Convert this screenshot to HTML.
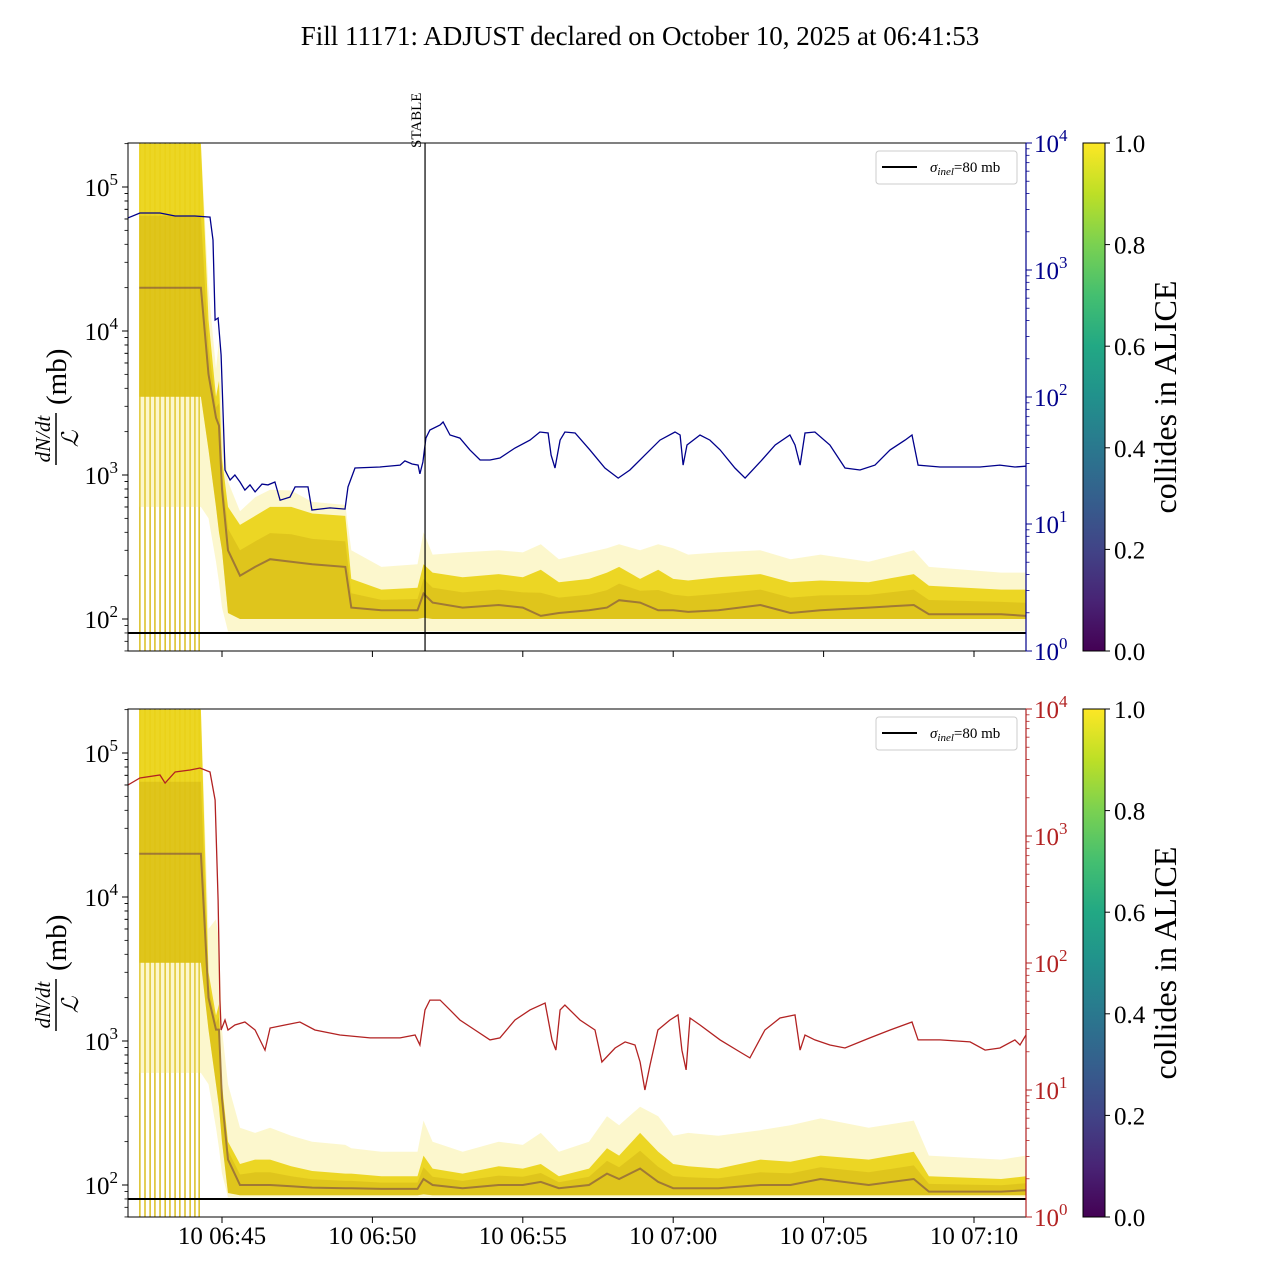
<!DOCTYPE html>
<html><head><meta charset="utf-8">
<style>
html,body{margin:0;padding:0;background:#fff;}
svg{display:block;font-family:"Liberation Serif",serif;}
</style></head>
<body>
<svg id="chart" width="1280" height="1280" viewBox="0 0 1280 1280" xmlns="http://www.w3.org/2000/svg">
<defs>
<linearGradient id="viridis" x1="0" y1="1" x2="0" y2="0">
<stop offset="0" stop-color="#440154"/><stop offset="0.1" stop-color="#482475"/><stop offset="0.2" stop-color="#414487"/><stop offset="0.3" stop-color="#355f8d"/><stop offset="0.4" stop-color="#2a788e"/><stop offset="0.5" stop-color="#21918c"/><stop offset="0.6" stop-color="#22a884"/><stop offset="0.7" stop-color="#44bf70"/><stop offset="0.8" stop-color="#7ad151"/><stop offset="0.9" stop-color="#bddf26"/><stop offset="1" stop-color="#fde725"/>
</linearGradient>
<clipPath id="clipTop"><rect x="128" y="143" width="898" height="508"/></clipPath>
<clipPath id="clipBot"><rect x="128" y="709" width="898" height="508"/></clipPath>
</defs>
<text x="640" y="45" text-anchor="middle" font-size="27">Fill 11171: ADJUST declared on October 10, 2025 at 06:41:53</text>
</svg>
<script>
// ---- data (time in minutes after 06:40) ----
const bandT = [2.25,4.3,4.55,4.8,4.9,5.0,5.2,5.6,6.1,6.6,7.3,8.0,9.1,9.3,10.3,11.5,11.7,12.0,13.0,14.2,15.0,15.6,16.2,17.2,17.8,18.2,18.9,19.5,20.0,20.5,21.5,22.9,23.9,24.9,26.5,28.0,28.5,30.9,31.73];
const topEnvHi = [200000,200000,20000,5450,8660,2410,900,560,700,790,780,650,620,300,230,240,400,280,290,300,290,330,260,290,310,330,300,330,310,280,290,300,260,280,250,300,230,210,210];
const topEnvLo = [600,600,500,250,180,120,82,82,82,82,82,82,82,82,82,82,82,82,82,82,82,82,82,82,82,82,82,82,82,82,82,82,82,82,82,82,82,82,82];
const topCoreHi = [200000,200000,12000,3500,4500,1300,600,450,520,600,600,540,520,190,160,165,240,210,195,205,195,220,180,190,210,230,190,220,190,185,195,205,180,185,180,205,170,160,160];
const topCoreLo = [3500,3500,1500,600,400,300,110,100,100,100,100,100,100,100,100,100,102,100,100,100,100,100,100,100,100,100,100,100,100,100,100,100,100,100,100,100,100,100,100];
const topMed = [20000,20000,5000,2500,2200,800,300,200,230,260,250,240,230,120,115,115,150,130,120,125,120,105,110,115,120,135,130,115,115,112,115,125,110,115,120,125,108,108,105];
const botEnvHi = [200000,200000,6000,7000,5000,1200,500,250,230,250,220,200,190,180,170,170,280,200,170,200,190,230,170,200,300,260,350,300,220,230,220,240,260,290,250,280,160,150,160];
const botEnvLo = [600,600,500,250,180,120,82,82,82,82,82,82,82,82,82,82,82,82,82,82,82,82,82,82,82,82,82,82,82,82,82,82,82,82,82,82,82,82,82];
const botCoreHi = [200000,200000,3000,1500,1800,500,200,140,150,150,135,125,120,120,115,115,160,130,120,135,130,140,115,130,180,160,230,170,140,135,130,150,145,160,150,170,115,110,115];
const botCoreLo = [3500,3500,1200,500,350,200,88,85,85,85,85,85,85,85,85,85,86,85,85,85,85,85,85,85,85,85,85,85,85,85,85,85,85,85,85,85,85,85,85];
const botMed = [20000,20000,2000,1200,1200,400,150,100,100,100,98,96,95,95,94,94,110,100,95,100,100,105,95,100,120,110,130,105,95,95,95,100,100,110,100,110,90,90,92];
const gapTimes = [2.27,2.44,2.61,2.77,2.94,3.11,3.27,3.44,3.60,3.77,3.94,4.10,4.24];
const blueT = [1.875,2.27,2.94,3.44,4.10,4.60,4.70,4.77,4.87,4.97,5.10,5.27,5.43,5.60,5.76,5.93,6.10,6.33,6.53,6.76,6.93,7.26,7.43,7.86,7.99,8.59,9.09,9.19,9.42,10.25,10.92,11.08,11.32,11.52,11.58,11.68,11.78,11.91,12.25,12.35,12.58,12.91,13.24,13.58,13.91,14.24,14.74,15.24,15.57,15.84,15.94,16.07,16.24,16.40,16.74,17.23,17.73,18.17,18.56,19.06,19.56,20.06,20.23,20.33,20.46,20.89,21.22,21.56,22.05,22.39,22.89,23.39,23.88,24.05,24.22,24.38,24.71,25.21,25.71,26.21,26.71,27.21,27.71,27.94,28.14,28.87,30.20,30.86,31.36,31.73];
const blueV = [2570,2810,2810,2660,2660,2610,1720,404,419,214,26.6,22.2,24.3,21.4,18.5,20.3,17.9,20.6,20.3,21.4,15.4,16.3,19.6,19.6,12.9,13.4,13.1,19.6,27.6,28.1,29.1,31.4,29.7,29.1,24.8,30.8,47.5,55,60.2,63.6,50.2,47.5,38.3,31.9,31.9,33.1,39.7,45.8,53,52.1,34.9,27.6,45.8,53,52.1,38.3,27.6,23,26.6,34.9,45.8,53,50.2,29.1,41.9,50.2,45.8,38.3,27.6,23,30.8,41.9,50.2,41.9,29.1,52.1,53,41.9,27.6,26.6,29.1,38.3,45.8,50.2,29.1,28.1,28.1,29.1,28.1,28.5];
const redT = [1.875,2.27,2.94,3.11,3.44,3.94,4.27,4.60,4.77,4.87,4.93,4.97,5.10,5.20,5.43,5.76,6.10,6.43,6.60,7.09,7.59,8.09,8.92,9.92,10.92,11.42,11.58,11.75,11.91,12.25,12.58,12.91,13.41,13.91,14.24,14.74,15.24,15.74,15.97,16.10,16.24,16.40,16.90,17.40,17.63,18.07,18.40,18.73,18.90,19.06,19.23,19.49,19.89,20.16,20.29,20.43,20.56,20.89,21.56,22.22,22.55,23.05,23.55,24.05,24.22,24.38,24.71,25.21,25.71,26.54,27.21,27.94,28.14,28.87,29.87,30.37,30.86,31.36,31.53,31.73];
const redV = [2520,2860,3020,2610,3190,3310,3430,3190,1920,313,51,29.7,35.6,29.7,32.5,34.3,29.7,20.6,30.8,32.5,34.3,29.7,27.1,25.7,25.7,27.1,22.6,42.7,51,51,42.7,35.6,29.7,24.8,25.7,35.6,42.7,48.4,24.8,20.6,42.7,46.7,35.6,29.7,16.6,21.4,23.9,22.6,16.6,10,15.7,29.7,35.6,39,20.6,14.4,36.9,32.5,24.8,19.9,17.9,29.7,36.9,39,20.6,27.1,24.8,22.6,21.4,25.7,29.7,34.3,24.8,24.8,23.9,20.6,21.4,24.8,22.6,27.1];
const xTickLabels = ["10 06:45","10 06:50","10 06:55","10 07:00","10 07:05","10 07:10"];
const xTickTimes = [5,10,15,20,25,30];
const leftDecades = [2,3,4,5];
const rightDecades = [0,1,2,3,4];
const cbTicks = ["0.0","0.2","0.4","0.6","0.8","1.0"];
const stableTime = 11.75;
const sigmaInel = 80;

const NS = "http://www.w3.org/2000/svg";
const svg = document.getElementById('chart');
function mk(tag, attrs, parent){const e=document.createElementNS(NS,tag);for(const k in attrs)e.setAttribute(k,attrs[k]);(parent||svg).appendChild(e);return e;}
const X = t => 222 + (t-5)*30.08;
const X0 = 128, X1 = 1026;

function panel(p){
  const top=p.top, bot=top+508, base=top+476;
  const YL = v => base - (Math.log10(v)-2)*144;
  const YR = v => bot - Math.log10(v)*127;
  const g = mk('g',{});
  
  
  const cg = mk('g',{'clip-path':'url(#'+p.clip+')'},g);
  gapTimes.forEach(t=>{
    const l=mk('line',{x1:X(t),x2:X(t),y1:top,y2:bot,stroke:'#d4b400','stroke-width':1.3},cg);
    
    
  });
  function band(hi,lo,fill,op,name){
    let d='M';
    bandT.forEach((t,i)=>{d+=X(t).toFixed(1)+','+YL(hi[i]).toFixed(1)+' L';});
    for(let i=bandT.length-1;i>=0;i--){d+=X(bandT[i]).toFixed(1)+','+YL(lo[i]).toFixed(1)+(i?' L':'');}
    const e=mk('path',{d:d+'Z',fill:fill,'fill-opacity':op},cg);
    
    
  }
  band(p.envHi,p.envLo,'#f5e65a',0.3,'rate-envelope');
  band(p.coreHi,p.coreLo,'#ead316',0.92,'rate-core-band');
  const midHi = p.med.map((m,i)=>Math.sqrt(m*p.coreHi[i]));
  band(midHi,p.coreLo,'#c9a70e',0.35,'rate-dense-band');
  const pd = bandT.map((t,i)=>(i?'L':'M')+X(t).toFixed(1)+','+YL(p.med[i]).toFixed(1)).join(' ');
  const ml=mk('path',{d:pd,fill:'none',stroke:'#6b3a4a','stroke-width':2,'stroke-opacity':0.55},cg);
  
  
  const sl=mk('line',{x1:X0,x2:X1,y1:YL(sigmaInel),y2:YL(sigmaInel),stroke:'#000','stroke-width':2},cg);
  
  
  const rd = p.rT.map((t,i)=>(i?'L':'M')+X(t).toFixed(1)+','+YR(p.rV[i]).toFixed(1)).join(' ');
  const rl=mk('path',{d:rd,fill:'none',stroke:p.rColor,'stroke-width':1.3},cg);
  
  
  if(p.stable){
    const st=mk('line',{x1:X(stableTime),x2:X(stableTime),y1:top,y2:bot,stroke:'#000','stroke-width':1.2},g);
    
    
    const tx=X(stableTime)-4;
    const stt=mk('text',{x:tx,y:top+5,'font-size':15,transform:'rotate(-90 '+tx+' '+(top+5)+')'},g);
    stt.textContent='STABLE';
    
    
  }
  mk('rect',{x:X0,y:top,width:X1-X0,height:508,fill:'none',stroke:'#000','stroke-width':1},g);
  mk('line',{x1:X1,x2:X1,y1:top,y2:bot,stroke:p.rColor,'stroke-width':1.2},g);
  leftDecades.forEach(dc=>{
    const y=YL(Math.pow(10,dc));
    mk('line',{x1:X0-6,x2:X0,y1:y,y2:y,stroke:'#000'},g);
    const t=mk('text',{x:X0-10,y:y+9,'font-size':25,'text-anchor':'end'},g);
    
    
    t.innerHTML='10<tspan dy="-11" font-size="17">'+dc+'</tspan>';
    for(let m=2;m<10;m++){
      const ym=YL(m*Math.pow(10,dc));
      if(ym>=top&&ym<=bot) mk('line',{x1:X0-3.5,x2:X0,y1:ym,y2:ym,stroke:'#000','stroke-width':0.8},g);
    }
    for(let m=6;m<10;m++){const yy=YL(m*Math.pow(10,dc-1)); if(yy<=bot&&yy>=top) mk('line',{x1:X0-3.5,x2:X0,y1:yy,y2:yy,stroke:'#000','stroke-width':0.8},g);}
  });
  rightDecades.forEach(dc=>{
    const y=YR(Math.pow(10,dc));
    mk('line',{x1:X1,x2:X1+6,y1:y,y2:y,stroke:p.rColor},g);
    const t=mk('text',{x:X1+8,y:y+9,'font-size':25,fill:p.rColor},g);
    
    
    t.innerHTML='10<tspan dy="-11" font-size="17">'+dc+'</tspan>';
    if(dc<4) for(let m=2;m<10;m++){const ym=YR(m*Math.pow(10,dc));mk('line',{x1:X1,x2:X1+3.5,y1:ym,y2:ym,stroke:p.rColor,'stroke-width':0.8},g);}
  });
  xTickTimes.forEach((t,i)=>{
    mk('line',{x1:X(t),x2:X(t),y1:bot,y2:bot+6,stroke:'#000'},g);
    if(p.xLabels){
      const tl=mk('text',{x:X(t),y:bot+27,'font-size':25,'text-anchor':'middle'},g);
      tl.textContent=xTickLabels[i];
      
      
    }
  });
  const yl=mk('g',{transform:'translate(56 '+(top+254)+') rotate(-90)'},g);
  
  
  const n=mk('text',{x:-42,y:-6,'font-size':21,'font-style':'italic','text-anchor':'middle'},yl); n.textContent='dN/dt';
  mk('line',{x1:-68,x2:-16,y1:0,y2:0,stroke:'#000','stroke-width':1.5},yl);
  const dd=mk('text',{x:-42,y:22,'font-size':23,'font-style':'italic','text-anchor':'middle'},yl); dd.textContent='ℒ';
  const mb=mk('text',{x:-8,y:10,'font-size':29},yl); mb.textContent='(mb)';
  const lg=mk('g',{},g);
  
  
  mk('rect',{x:876,y:top+8,width:141,height:33,rx:3,fill:'#fff','fill-opacity':0.8,stroke:'#ccc'},lg);
  mk('line',{x1:882,x2:917,y1:top+24,y2:top+24,stroke:'#000','stroke-width':2},lg);
  const lt=mk('text',{x:930,y:top+29,'font-size':15},lg);
  lt.innerHTML='<tspan font-style="italic">σ</tspan><tspan font-style="italic" font-size="11" dy="3">inel</tspan><tspan dy="-3">=80 mb</tspan>';
  const cb=mk('g',{},g);
  
  
  mk('rect',{x:1083,y:top,width:22,height:508,fill:'url(#viridis)',stroke:'#000','stroke-width':1},cb);
  cbTicks.forEach((s,i)=>{
    const y=bot-i*508/5;
    mk('line',{x1:1105,x2:1110,y1:y,y2:y,stroke:'#000'},cb);
    const t=mk('text',{x:1114,y:y+9,'font-size':25},cb); t.textContent=s;
  });
  const ct=mk('text',{x:1176,y:top+254,'font-size':32,'text-anchor':'middle',transform:'rotate(-90 1176 '+(top+254)+')'},cb);
  ct.textContent='collides in ALICE';
}
panel({name:'top-panel',top:143,clip:'clipTop',envHi:topEnvHi,envLo:topEnvLo,coreHi:topCoreHi,coreLo:topCoreLo,med:topMed,rT:blueT,rV:blueV,rColor:'#00008b',rName:'blue-series-line',stable:true,xLabels:false});
panel({name:'bottom-panel',top:709,clip:'clipBot',envHi:botEnvHi,envLo:botEnvLo,coreHi:botCoreHi,coreLo:botCoreLo,med:botMed,rT:redT,rV:redV,rColor:'#b22222',rName:'red-series-line',stable:false,xLabels:true});
</script>
</body></html>
